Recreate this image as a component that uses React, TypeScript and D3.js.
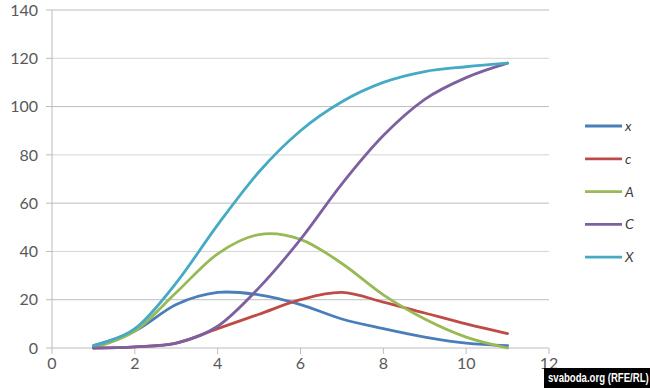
import React from "react";
import * as d3 from "d3";

const xValues = [1, 2, 3, 4, 5, 6, 7, 8, 9, 10, 11];
const seriesNames = ["x", "c", "A", "C", "X"];
const xSmall = [1, 7, 18, 23, 22, 18, 12, 8, 4.5, 2, 1];
const cSmall = [0, 0.5, 2, 8, 14, 20, 23, 19, 14.5, 10, 6];
const aBig = [0, 7, 23, 39, 47, 45, 35, 22, 12, 4.5, 0];
const cBig = [0, 0.5, 2, 9, 25, 45, 68, 88, 103, 112, 118];
const xBig = [1, 8, 27, 51, 73, 90, 102, 110, 114.5, 116.5, 118];
const colors = ["#4a7ebb", "#be4b48", "#98b954", "#7d60a0", "#46aac5"];
const xTicks = [0, 2, 4, 6, 8, 10, 12];
const yTicks = [0, 20, 40, 60, 80, 100, 120, 140];

const W = 650;
const H = 388;

export default function App() {
  const x = d3.scaleLinear().domain([0, 12]).range([52, 549]);
  const y = d3.scaleLinear().domain([0, 140]).range([348, 10]);
  const allSeries = [xSmall, cSmall, aBig, cBig, xBig];

  // сглаживание как в Excel (uniform Catmull-Rom)
  const line = d3
    .line<number>()
    .x((_, i) => x(xValues[i]))
    .y((d) => y(d))
    .curve(d3.curveCardinal.tension(0));

  const font = "Lato, 'Open Sans', sans-serif";

  return (
    <svg
      width={W}
      height={H}
      style={{ position: "absolute", left: 0, top: 0, background: "#fff" }}
    >
      {/* сетка */}
      {yTicks.slice(1).map((t) => (
        <line
          key={t}
          x1={x(0)}
          x2={x(12)}
          y1={y(t)}
          y2={y(t)}
          stroke={t % 40 === 0 ? "#d4d4d4" : "#bdbdbd"}
          strokeWidth={1}
        />
      ))}
      {/* оси */}
      <line x1={x(0)} x2={x(0)} y1={y(140)} y2={y(0)} stroke="#bcbcbc" />
      <line x1={x(0)} x2={x(12)} y1={y(0)} y2={y(0)} stroke="#bcbcbc" />
      {yTicks.map((t) => (
        <g key={t}>
          <line x1={x(0) - 6} x2={x(0)} y1={y(t)} y2={y(t)} stroke="#bcbcbc" />
          <text
            x={38}
            y={y(t)}
            dy="0.36em"
            textAnchor="end"
            fontFamily={font}
            fontSize={16}
            fill="#595959"
          >
            {t}
          </text>
        </g>
      ))}
      {xTicks.map((t) => (
        <g key={t}>
          <line x1={x(t)} x2={x(t)} y1={y(0)} y2={y(0) + 6} stroke="#bcbcbc" />
          <text
            x={x(t)}
            y={369}
            textAnchor="middle"
            fontFamily={font}
            fontSize={16}
            fill="#595959"
          >
            {t}
          </text>
        </g>
      ))}
      {/* линии */}
      {allSeries.map((s, i) => (
        <path
          key={seriesNames[i]}
          d={line(s) ?? ""}
          fill="none"
          stroke={colors[i]}
          strokeWidth={2.8}
          strokeLinecap="round"
        />
      ))}
      {/* легенда */}
      {seriesNames.map((n, i) => {
        const ly = 126 + i * 32.8;
        return (
          <g key={n}>
            <line
              x1={585}
              x2={622}
              y1={ly}
              y2={ly}
              stroke={colors[i]}
              strokeWidth={2.8}
            />
            <text
              x={625}
              y={ly}
              dy="0.35em"
              fontFamily={font}
              fontStyle="italic"
              fontSize={14}
              fill="#404040"
            >
              {n}
            </text>
          </g>
        );
      })}
      {/* подпись */}
      <rect x={544} y={368} width={106} height={20} fill="#000" />
      <g transform="translate(548,382) scale(0.8,1)">
        <text
          x={0}
          y={0}
          fontFamily="'Liberation Sans', Arial, sans-serif"
          fontWeight="bold"
          fontSize={12}
          fill="#fff"
        >
          svaboda.org (RFE/RL)
        </text>
      </g>
    </svg>
  );
}
